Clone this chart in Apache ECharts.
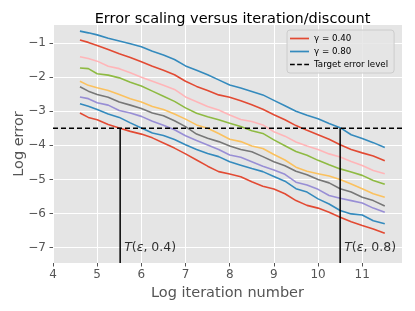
<!DOCTYPE html>
<html>
<head>
<meta charset="utf-8">
<script src="https://cdn.jsdelivr.net/npm/echarts@6/dist/echarts.min.js"></script>
<style>html,body{margin:0;padding:0;background:#fff;}#c{width:415px;height:311px;}</style>
</head>
<body>
<div id="c"></div>
<script>
// Log iteration number sample positions
const xs = [4.61, 4.8, 5.0, 5.25, 5.5, 5.75, 6.0, 6.25, 6.5, 6.75, 7.0, 7.25, 7.5, 7.75, 8.0, 8.25, 8.5, 8.75, 9.0, 9.25, 9.5, 9.75, 10.0, 10.25, 10.5, 10.75, 11.0, 11.25, 11.51];
// Log error per discount factor gamma
const g40 = [-3.05,-3.18,-3.25,-3.39,-3.49,-3.59,-3.67,-3.78,-3.93,-4.08,-4.25,-4.43,-4.61,-4.77,-4.84,-4.92,-5.07,-5.20,-5.28,-5.42,-5.62,-5.76,-5.84,-5.96,-6.11,-6.24,-6.35,-6.45,-6.58];
const g45 = [-2.78,-2.85,-2.95,-3.08,-3.18,-3.34,-3.49,-3.64,-3.71,-3.83,-3.98,-4.12,-4.24,-4.33,-4.48,-4.58,-4.68,-4.77,-4.91,-5.05,-5.27,-5.37,-5.57,-5.72,-5.91,-6.01,-6.04,-6.21,-6.30];
const g50 = [-2.58,-2.63,-2.75,-2.82,-2.98,-3.05,-3.15,-3.29,-3.41,-3.54,-3.72,-3.86,-3.99,-4.12,-4.28,-4.35,-4.48,-4.61,-4.72,-4.85,-5.08,-5.16,-5.29,-5.47,-5.55,-5.62,-5.69,-5.84,-5.96];
const g55 = [-2.28,-2.41,-2.51,-2.59,-2.73,-2.82,-2.92,-3.05,-3.13,-3.28,-3.45,-3.67,-3.79,-3.89,-4.02,-4.12,-4.19,-4.33,-4.48,-4.60,-4.76,-4.86,-5.00,-5.10,-5.27,-5.37,-5.52,-5.62,-5.78];
const g60 = [-2.12,-2.24,-2.31,-2.39,-2.51,-2.63,-2.73,-2.86,-2.95,-3.08,-3.23,-3.40,-3.50,-3.65,-3.82,-3.89,-4.02,-4.09,-4.27,-4.43,-4.64,-4.76,-4.83,-4.90,-5.00,-5.13,-5.27,-5.42,-5.52];
const g65 = [-1.73,-1.75,-1.90,-1.94,-2.02,-2.15,-2.26,-2.41,-2.56,-2.71,-2.90,-3.06,-3.16,-3.25,-3.35,-3.45,-3.57,-3.65,-3.84,-4.01,-4.18,-4.29,-4.44,-4.57,-4.69,-4.78,-4.88,-5.03,-5.14];
const g70 = [-1.40,-1.45,-1.53,-1.68,-1.75,-1.87,-2.00,-2.12,-2.24,-2.36,-2.58,-2.72,-2.86,-2.96,-3.11,-3.24,-3.30,-3.40,-3.60,-3.73,-3.90,-4.02,-4.12,-4.25,-4.34,-4.47,-4.59,-4.74,-4.83];
const g75 = [-0.91,-0.98,-1.07,-1.19,-1.31,-1.42,-1.55,-1.68,-1.80,-1.93,-2.12,-2.27,-2.39,-2.52,-2.59,-2.69,-2.81,-2.94,-3.10,-3.25,-3.42,-3.56,-3.69,-3.82,-3.98,-4.12,-4.22,-4.31,-4.45];
const g80 = [-0.65,-0.70,-0.76,-0.86,-0.94,-1.02,-1.11,-1.24,-1.35,-1.48,-1.67,-1.80,-1.93,-2.08,-2.23,-2.32,-2.42,-2.52,-2.68,-2.84,-3.00,-3.12,-3.22,-3.36,-3.48,-3.69,-3.80,-3.92,-4.06];
const gammaNames = ['γ = 0.40','γ = 0.45','γ = 0.50','γ = 0.55','γ = 0.60','γ = 0.65','γ = 0.70','γ = 0.75','γ = 0.80'];
const gammaSeries = [g40,g45,g50,g55,g60,g65,g70,g75,g80];
// Target error level and crossing points
const targetLevel = -3.5;
const crossX = [5.52, 10.5];
const crossLabels = ['0.4', '0.8'];
const xTicks = [4,5,6,7,8,9,10,11];
const yTicks = [-7,-6,-5,-4,-3,-2,-1];
const xMin = 4, xMax = 11.9, yMin = -7.45, yMax = -0.47;

const colors = ['#E24A33','#348ABD','#988ED5','#777777','#FBC15E','#8EBA42','#FFB5B8','#E24A33','#348ABD'];
const FONT = 'DejaVu Sans';

const series = gammaSeries.map((arr, i) => ({
  name: gammaNames[i],
  type: 'line',
  data: xs.map((x, j) => [x, arr[j]]),
  showSymbol: false, symbol: 'none',
  lineStyle: {color: colors[i], width: 1.6},
  itemStyle: {color: colors[i]},
  z: 3
}));
series.push({
  name: 'Target error level',
  type: 'line',
  data: [[xMin, targetLevel], [xMax, targetLevel]],
  showSymbol: false, symbol: 'none',
  lineStyle: {color: '#000', width: 1.5, type: [5, 3]},
  itemStyle: {color: '#000'},
  z: 5
});
crossX.forEach((cx, k) => {
  series.push({
    name: 'cross' + k,
    type: 'line',
    data: [[cx, yMin], [cx, targetLevel]],
    showSymbol: false, symbol: 'none',
    lineStyle: {color: '#000', width: 1.5},
    z: 5
  });
  series.push({
    name: 'lab' + k,
    type: 'scatter',
    data: [[cx, -7]],
    symbolSize: 0,
    label: {
      show: true, position: 'right', distance: 4,
      formatter: '{i|T}{r|(}{i|ε}{r|, ' + crossLabels[k] + ')}',
      rich: {
        i: {fontFamily: FONT, fontStyle: 'italic', fontSize: 12.5, color: '#000'},
        r: {fontFamily: FONT, fontSize: 12.5, color: '#000'}
      }
    },
    z: 6
  });
});

const solidIcon = 'path://M0,0h20v1.8h-20z';
const dashIcon = 'path://M0,0h5v1.8h-5z M7.5,0h5v1.8h-5z M15,0h5v1.8h-5z';

const chart = echarts.init(document.getElementById('c'), null, {renderer: 'canvas'});
chart.setOption({
  animation: false,
  textStyle: {fontFamily: FONT},
  title: {
    text: 'Error scaling versus iteration/discount',
    left: 227.5, top: 7, textAlign: 'center',
    textStyle: {fontFamily: FONT, fontSize: 14.5, fontWeight: 'normal', color: '#000'}
  },
  grid: {left: 53, right: 13, top: 25, bottom: 48, show: true, backgroundColor: '#E5E5E5', borderWidth: 0,
    containLabel: false, outerBoundsMode: 'none'},
  legend: {
    data: [
      {name: 'γ = 0.40', icon: solidIcon},
      {name: 'γ = 0.80', icon: solidIcon},
      {name: 'Target error level', icon: dashIcon}
    ],
    orient: 'vertical', left: 287, top: 30,
    itemWidth: 19, itemHeight: 10, itemGap: 4,
    symbolKeepAspect: true,
    padding: [4, 6, 4, 3],
    backgroundColor: 'rgba(229,229,229,0.85)', borderColor: '#CCCCCC', borderWidth: 1, borderRadius: 3,
    textStyle: {fontFamily: FONT, fontSize: 8.7, color: '#000'}
  },
  xAxis: {
    type: 'value', min: xMin, max: xMax, interval: 1,
    name: 'Log iteration number', nameLocation: 'middle', nameGap: 23,
    nameTextStyle: {fontFamily: FONT, fontSize: 14.5, color: '#555'},
    axisLine: {show: false},
    axisTick: {show: true, length: 3.5, inside: false, lineStyle: {color: '#555'}, customValues: xTicks},
    axisLabel: {fontFamily: FONT, fontSize: 12, color: '#555', margin: 6, customValues: xTicks},
    splitLine: {show: true, lineStyle: {color: '#fff', width: 1}}
  },
  yAxis: {
    type: 'value', min: yMin, max: yMax,
    name: 'Log error', nameLocation: 'middle', nameGap: 26, nameMoveOverlap: false,
    nameTextStyle: {fontFamily: FONT, fontSize: 14.5, color: '#555'},
    axisLine: {show: false},
    axisTick: {show: true, length: 3.5, inside: false, lineStyle: {color: '#555'}, customValues: yTicks},
    axisLabel: {fontFamily: FONT, fontSize: 12, color: '#555', margin: 7, customValues: yTicks,
      formatter: function (v) { return String(v).replace('-', '\u2212'); }},
    splitLine: {show: true, lineStyle: {color: '#fff', width: 1}}
  },
  series: series
});
</script>
</body>
</html>
